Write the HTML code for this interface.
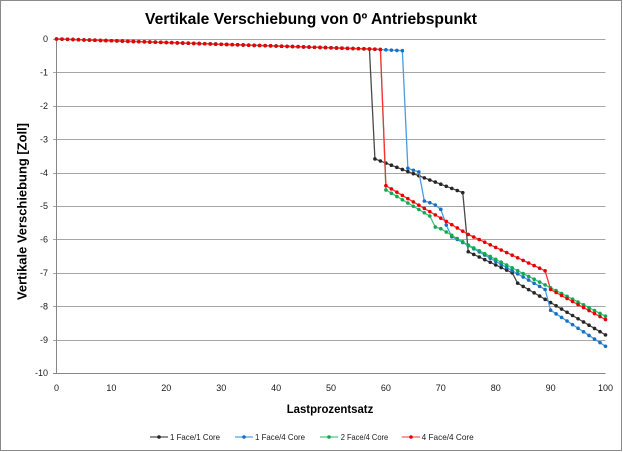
<!DOCTYPE html>
<html><head><meta charset="utf-8"><style>
html,body{margin:0;padding:0;background:#fff;}
svg{display:block;}
text{font-family:"Liberation Sans",Arial,sans-serif;}
</style></head><body>
<svg id="c" width="623" height="452" viewBox="0 0 623 452" xmlns="http://www.w3.org/2000/svg">
<rect x="0" y="0" width="623" height="452" fill="#fff"/>
<rect x="0.5" y="0.5" width="621" height="450" fill="none" stroke="#8a8a8a" stroke-width="1"/>
<text x="145" y="24" font-size="15.5" font-weight="bold" fill="#000" textLength="332" lengthAdjust="spacingAndGlyphs">Vertikale Verschiebung von 0º Antriebspunkt</text>
<g id="grid" stroke="#a6a6a6" stroke-width="1" shape-rendering="crispEdges"></g>
<g id="ylab" font-size="9" fill="#1a1a1a" text-anchor="end"></g>
<g id="xlab" font-size="9" fill="#1a1a1a" text-anchor="middle"></g>
<line x1="56.5" y1="39" x2="56.5" y2="373" stroke="#868686" stroke-width="1" shape-rendering="crispEdges"/>
<text x="286.7" y="413" font-size="11.5" font-weight="bold" fill="#000" textLength="86.6" lengthAdjust="spacingAndGlyphs">Lastprozentsatz</text>
<text transform="translate(26.5,300) rotate(-90)" x="0" y="0" font-size="12.5" font-weight="bold" fill="#000" textLength="177" lengthAdjust="spacingAndGlyphs">Vertikale Verschiebung [Zoll]</text>
<g id="series"></g>
<g id="legend" font-size="8.2" fill="#1a1a1a">
<line x1="150" y1="437" x2="168" y2="437" stroke="#6e6e6e" stroke-width="1.5"/>
<circle cx="159" cy="437" r="1.8" fill="#262626"/>
<text x="170" y="440" textLength="50" lengthAdjust="spacingAndGlyphs">1 Face/1 Core</text>
<line x1="235" y1="437" x2="253" y2="437" stroke="#6fb0e8" stroke-width="1.5"/>
<circle cx="244" cy="437" r="1.8" fill="#1670c4"/>
<text x="255" y="440" textLength="50" lengthAdjust="spacingAndGlyphs">1 Face/4 Core</text>
<line x1="320" y1="437" x2="338" y2="437" stroke="#6fd39a" stroke-width="1.5"/>
<circle cx="329" cy="437" r="1.8" fill="#13a850"/>
<text x="340.7" y="440" textLength="47.5" lengthAdjust="spacingAndGlyphs">2 Face/4 Core</text>
<line x1="401.7" y1="437" x2="420" y2="437" stroke="#ff7a7a" stroke-width="1.5"/>
<circle cx="411" cy="437" r="1.8" fill="#e60000"/>
<text x="421.7" y="440" textLength="52" lengthAdjust="spacingAndGlyphs">4 Face/4 Core</text>
</g>
</svg>
<script>
(function(){
var NS="http://www.w3.org/2000/svg";
function X(v){return 56.5+5.49*v;}
function Y(d){return 39-33.4*d;}
function el(tag,attrs,parent,txt){var e=document.createElementNS(NS,tag);for(var k in attrs)e.setAttribute(k,attrs[k]);if(txt!==undefined)e.textContent=txt;parent.appendChild(e);return e;}
var grid=document.getElementById("grid"),yl=document.getElementById("ylab"),xl=document.getElementById("xlab");
for(var k=0;k<=10;k++){
  var y=Math.round(Y(-k))+0.5;
  el("line",{x1:53,y1:y,x2:605.5,y2:y,stroke:k==10?"#868686":"#a6a6a6"},grid);
  el("text",{x:48,y:(Y(-k)+3.2).toFixed(1)},yl,k==0?"0":"-"+k);
}
for(var v=0;v<=100;v+=10){
  el("text",{x:X(v).toFixed(1),y:391},xl,String(v));
}
function lin(v,a,da,b,db){return da+(db-da)*(v-a)/(b-a);}
function base(v){return -0.3*v/57;}
function black(v){
  if(v<=57)return base(v);
  if(v<=74)return lin(v,58,-3.59,74,-4.6);
  if(v<=83)return lin(v,75,-6.37,83,-7.0);
  return lin(v,84,-7.31,100,-8.86);
}
var bl={64:-3.87,65:-3.93,66:-3.98,67:-4.85,68:-4.9,69:-4.97,70:-5.1,71:-5.57,72:-5.92};
function blue(v){
  if(v<=57)return base(v);
  if(v<=63)return lin(v,57,-0.3,63,-0.35);
  if(bl[v]!==undefined)return bl[v];
  if(v<=89)return lin(v,73,-6.0,89,-7.5);
  return lin(v,90,-8.12,100,-9.2);
}
function green(v){
  if(v<=59)return base(v);
  if(v<=68)return lin(v,60,-4.52,68,-5.3);
  if(v==69)return -5.63;
  if(v<=75)return lin(v,70,-5.68,75,-6.17);
  return lin(v,75,-6.17,100,-8.3);
}
function red(v){
  if(v<=59)return base(v);
  if(v<=75)return lin(v,60,-4.39,75,-5.85);
  if(v<=89)return lin(v,75,-5.85,89,-6.94);
  return lin(v,90,-7.5,100,-8.4);
}
var S=[[black,"#4a4a4a","#262626"],[blue,"#4a9be0","#1670c4"],[green,"#3cc47a","#13a850"],[red,"#ff3030","#e60000"]];
var sg=document.getElementById("series");
S.forEach(function(s){
  var pts=[];
  for(var v=0;v<=100;v++){pts.push(X(v).toFixed(2)+","+Y(s[0](v)).toFixed(2));}
  el("polyline",{points:pts.join(" "),fill:"none",stroke:s[1],"stroke-width":1.3,"stroke-linejoin":"round"},sg);
  var g=el("g",{fill:s[2]},sg);
  for(var v=0;v<=100;v++){el("circle",{cx:X(v).toFixed(2),cy:Y(s[0](v)).toFixed(2),r:1.8},g);}
});
})();
</script>
</body></html>
